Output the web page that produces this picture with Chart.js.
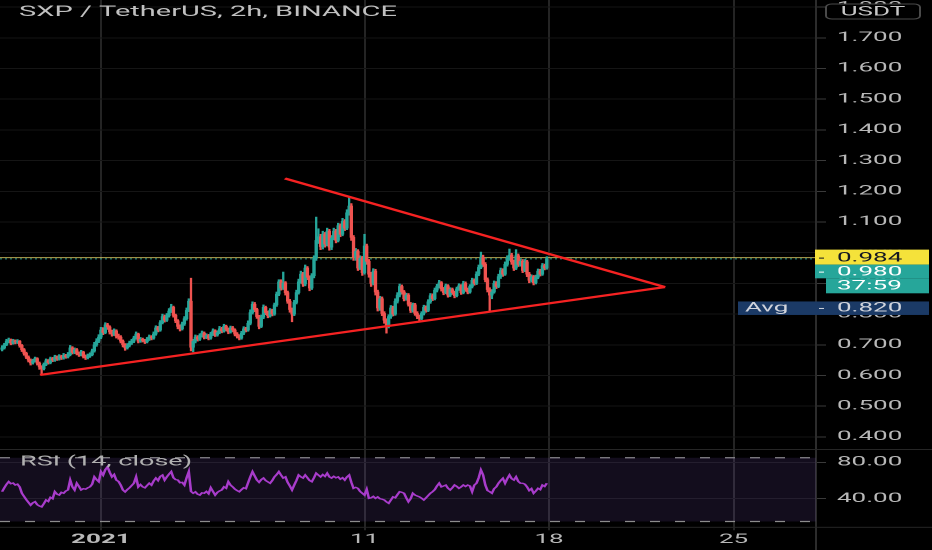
<!DOCTYPE html>
<html>
<head>
<meta charset="utf-8">
<script src="https://cdn.jsdelivr.net/npm/chart.js@4.4.1/dist/chart.umd.min.js"></script>
<style>
  html, body { margin: 0; padding: 0; background: #000; overflow: hidden; }
  /* the reference screenshot is stretched 2x horizontally, so draw at half width and stretch */
  #wrap { position: absolute; left: 0; top: 0; width: 466px; height: 550px; transform: scaleX(2); transform-origin: 0 0; }
  #priceBox { position: absolute; left: 0; top: 0; width: 466px; height: 449px; }
  #rsiBox { position: absolute; left: 0; top: 449px; width: 466px; height: 101px; }
</style>
</head>
<body>
<div id="wrap">
  <div id="priceBox"><canvas id="priceChart" width="466" height="449"></canvas></div>
  <div id="rsiBox"><canvas id="rsiChart" width="466" height="101"></canvas></div>
</div>
<script>
// time is counted in days from 1 Jan 2021, one candle every 2 hours
const startDay = -3.75;
const stepDay = 2 / 24;
const firstOpen = 0.685;

const closes = [
  0.690,0.700,0.712,0.715,0.706,0.713,0.709,0.712,0.698,0.684,
  0.672,0.660,0.650,0.641,0.648,0.655,0.640,0.628,0.622,0.636,
  0.648,0.642,0.655,0.650,0.660,0.654,0.662,0.657,0.665,0.661,
  0.668,0.690,0.675,0.684,0.672,0.668,0.676,0.662,0.658,0.664,
  0.668,0.680,0.700,0.712,0.725,0.748,0.740,0.765,0.758,0.742,
  0.735,0.745,0.728,0.725,0.712,0.700,0.690,0.698,0.706,0.712,
  0.722,0.735,0.712,0.718,0.714,0.710,0.718,0.726,0.722,0.735,
  0.755,0.748,0.772,0.792,0.780,0.795,0.810,0.822,0.796,0.778,
  0.760,0.752,0.768,0.785,0.812,0.842,0.692,0.712,0.725,0.718,
  0.730,0.738,0.724,0.730,0.722,0.735,0.745,0.732,0.740,0.752,
  0.745,0.760,0.750,0.742,0.755,0.748,0.735,0.728,0.722,0.738,
  0.752,0.748,0.770,0.805,0.832,0.815,0.792,0.760,0.790,0.822,
  0.805,0.795,0.812,0.800,0.830,0.865,0.905,0.885,0.902,0.870,
  0.842,0.815,0.800,0.838,0.870,0.905,0.930,0.898,0.950,0.920,
  0.885,0.925,0.982,1.040,1.052,1.020,1.060,1.028,1.070,1.018,
  1.048,1.070,1.040,1.088,1.060,1.102,1.080,1.130,1.152,1.050,
  0.985,1.005,0.950,0.982,0.935,1.022,0.972,0.930,0.900,0.940,
  0.872,0.820,0.850,0.802,0.780,0.762,0.792,0.820,0.800,0.842,
  0.862,0.890,0.872,0.850,0.862,0.832,0.812,0.830,0.802,0.792,
  0.786,0.802,0.822,0.812,0.840,0.860,0.850,0.878,0.890,0.902,
  0.882,0.870,0.892,0.862,0.880,0.870,0.860,0.882,0.892,0.870,
  0.900,0.880,0.872,0.890,0.910,0.900,0.930,0.952,0.985,0.962,
  0.912,0.880,0.862,0.872,0.900,0.890,0.922,0.942,0.930,0.962,
  0.980,0.992,0.970,0.950,0.990,0.962,0.972,0.942,0.970,0.930,
  0.910,0.922,0.902,0.920,0.940,0.930,0.958,0.950,0.980
];

const highs = [
  0.697,0.705,0.718,0.722,0.719,0.718,0.716,0.717,0.714,0.701,
  0.688,0.676,0.664,0.654,0.653,0.660,0.658,0.644,0.632,0.641,
  0.654,0.652,0.660,0.659,0.666,0.664,0.668,0.666,0.672,0.669,
  0.675,0.698,0.694,0.690,0.688,0.677,0.682,0.679,0.667,0.670,
  0.674,0.686,0.708,0.720,0.733,0.757,0.756,0.772,0.770,0.762,
  0.748,0.752,0.749,0.735,0.730,0.716,0.704,0.704,0.712,0.718,
  0.728,0.742,0.738,0.724,0.722,0.718,0.724,0.732,0.730,0.742,
  0.762,0.760,0.779,0.800,0.797,0.802,0.818,0.832,0.826,0.800,
  0.782,0.765,0.774,0.792,0.820,0.850,0.917,0.718,0.732,0.730,
  0.736,0.745,0.742,0.736,0.734,0.741,0.752,0.749,0.746,0.760,
  0.757,0.767,0.764,0.755,0.761,0.760,0.752,0.740,0.733,0.744,
  0.759,0.757,0.778,0.814,0.840,0.838,0.819,0.796,0.797,0.830,
  0.826,0.810,0.818,0.816,0.836,0.872,0.912,0.912,0.937,0.906,
  0.875,0.848,0.820,0.845,0.878,0.914,0.940,0.936,0.960,0.955,
  0.925,0.932,0.990,1.116,1.078,1.060,1.070,1.066,1.080,1.076,
  1.056,1.080,1.076,1.096,1.094,1.112,1.108,1.140,1.180,1.160,
  1.056,1.014,1.010,0.990,0.988,1.060,1.028,0.978,0.936,0.948,
  0.946,0.878,0.858,0.856,0.808,0.785,0.798,0.828,0.826,0.850,
  0.870,0.898,0.895,0.877,0.868,0.867,0.838,0.836,0.835,0.808,
  0.797,0.808,0.829,0.827,0.847,0.867,0.866,0.885,0.897,0.910,
  0.906,0.887,0.898,0.896,0.886,0.885,0.875,0.888,0.899,0.896,
  0.907,0.905,0.885,0.896,0.917,0.915,0.938,0.960,1.002,0.992,
  0.968,0.918,0.886,0.880,0.908,0.906,0.930,0.950,0.948,0.970,
  0.990,1.012,0.998,0.976,1.010,0.996,0.980,0.978,0.978,0.975,
  0.936,0.928,0.926,0.927,0.947,0.946,0.965,0.963,0.987
];

const lows = [
  0.680,0.686,0.697,0.706,0.700,0.702,0.703,0.704,0.692,0.678,
  0.666,0.655,0.644,0.634,0.637,0.644,0.634,0.620,0.603,0.618,
  0.632,0.637,0.638,0.645,0.646,0.649,0.650,0.652,0.653,0.656,
  0.657,0.664,0.670,0.671,0.667,0.662,0.664,0.657,0.652,0.654,
  0.659,0.664,0.676,0.695,0.707,0.720,0.733,0.736,0.750,0.735,
  0.728,0.730,0.722,0.718,0.706,0.693,0.682,0.686,0.693,0.701,
  0.707,0.718,0.706,0.708,0.709,0.704,0.706,0.714,0.716,0.718,
  0.731,0.742,0.744,0.768,0.774,0.776,0.790,0.805,0.790,0.772,
  0.752,0.745,0.748,0.763,0.780,0.808,0.680,0.677,0.706,0.712,
  0.714,0.725,0.719,0.720,0.716,0.718,0.730,0.727,0.728,0.736,
  0.739,0.741,0.745,0.736,0.738,0.742,0.729,0.722,0.716,0.718,
  0.733,0.742,0.744,0.765,0.800,0.808,0.786,0.752,0.756,0.785,
  0.798,0.788,0.790,0.794,0.796,0.825,0.860,0.878,0.880,0.862,
  0.835,0.806,0.775,0.795,0.833,0.865,0.900,0.890,0.892,0.912,
  0.876,0.880,0.918,0.975,1.030,1.010,1.012,1.018,1.022,1.008,
  1.010,1.042,1.032,1.035,1.052,1.055,1.072,1.075,1.122,1.040,
  0.975,0.975,0.942,0.945,0.926,0.930,0.962,0.920,0.890,0.895,
  0.862,0.810,0.812,0.795,0.770,0.738,0.755,0.786,0.794,0.796,
  0.836,0.856,0.865,0.843,0.845,0.826,0.805,0.806,0.796,0.785,
  0.779,0.782,0.797,0.806,0.808,0.835,0.844,0.846,0.872,0.885,
  0.875,0.863,0.866,0.855,0.857,0.864,0.853,0.856,0.877,0.864,
  0.866,0.874,0.866,0.868,0.885,0.894,0.896,0.925,0.948,0.955,
  0.905,0.872,0.810,0.850,0.868,0.883,0.886,0.916,0.923,0.926,
  0.956,0.975,0.962,0.942,0.945,0.955,0.956,0.935,0.938,0.922,
  0.902,0.904,0.895,0.898,0.915,0.924,0.926,0.944,0.946
];

const rsi = [
  47.7,52.0,55.8,58.7,56.5,57.2,55.0,56.0,53.0,46.0,
  42.5,39.0,36.0,33.0,35.5,36.7,33.5,32.0,31.0,34.5,
  38.6,37.0,41.5,40.0,47.7,45.0,44.0,47.0,46.0,48.5,
  49.6,60.5,53.0,49.6,57.0,53.5,49.6,51.0,50.5,52.0,
  53.0,56.0,64.0,61.0,58.7,69.7,66.0,72.0,75.0,69.0,
  64.0,66.5,60.5,59.0,55.0,49.6,47.5,50.0,52.0,54.5,
  57.0,64.0,53.0,55.5,53.0,52.0,54.5,57.0,55.0,59.5,
  62.7,60.0,64.5,66.0,60.5,64.0,67.0,69.7,63.0,61.0,
  60.5,57.5,58.0,55.0,63.0,69.7,48.0,46.0,47.5,45.0,
  44.0,46.5,46.0,48.0,45.5,52.0,48.0,44.0,47.0,48.5,
  49.6,53.0,51.5,58.7,55.0,53.0,50.5,49.0,47.7,50.0,
  52.0,51.0,57.5,64.0,69.7,65.0,60.5,58.0,61.0,62.7,
  60.0,58.5,57.0,60.0,64.0,66.5,69.7,66.0,62.7,64.0,
  58.0,54.0,49.6,55.0,60.0,66.0,64.0,62.7,66.0,63.0,
  60.0,58.7,63.0,68.0,66.0,64.0,66.5,64.5,68.0,64.0,
  62.7,64.5,63.0,64.0,61.5,63.0,60.5,64.0,66.0,58.0,
  51.4,52.5,51.4,48.0,46.0,44.0,50.3,40.4,41.0,42.5,
  40.4,42.0,40.0,39.5,38.6,36.5,35.0,38.5,42.0,41.0,
  44.5,47.7,47.0,46.0,41.0,36.7,40.0,46.0,44.0,43.0,
  42.0,40.5,38.6,41.0,43.5,46.0,47.7,50.0,54.0,57.0,
  53.0,54.0,55.0,51.5,49.6,52.0,55.0,53.5,51.4,53.0,
  55.0,53.5,55.0,54.0,47.7,55.0,57.0,63.0,71.5,66.0,
  55.0,49.0,47.7,46.0,51.0,53.0,57.0,60.0,62.4,57.0,
  62.0,66.0,62.0,60.5,64.0,59.0,57.0,57.0,56.0,53.0,
  49.0,51.0,46.0,48.5,51.4,50.0,55.0,53.5,57.0
];

// axis ticks
const dateTicks = [0, 10, 17, 24];
const dateLabels = ['2021', '11', '18', '25'];
const priceTicks = [0.4, 0.5, 0.6, 0.7, 0.8, 0.9, 1.0, 1.1, 1.2, 1.3, 1.4, 1.5, 1.6, 1.7, 1.8];
const rsiTicks = [40, 80];
const rsiBands = [15, 85];

// drawn triangle (day, price)
const upperTrend = [[6.98, 1.242], [21.40, 0.888]];
const lowerTrend = [[-2.31, 0.602], [21.40, 0.888]];

const highMark = 0.984;
const lastPrice = 0.980;
const avgPrice = 0.820;
const countdown = '37:59';
const titleText = 'SXP / TetherUS, 2h, BINANCE';
const rsiTitle = 'RSI (14, close)';

// visible window
const xMin = -3.83, xMax = 27.13;
const priceMin = 0.3606, priceMax = 1.8231;
const rsiMin = 8.6, rsiMax = 94.6;

const FONT = 'Roboto';
const AXIS_W = 58;
const UP = '#26a69a', DOWN = '#ef5350';
const LABEL = '#b8b8b8';

const candleTime = i => startDay + i * stepDay;
const opens = closes.map((c, i) => i === 0 ? firstOpen : closes[i - 1]);
const candleColors = closes.map((c, i) => c >= opens[i] ? UP : DOWN);
const toPts = arr => arr.map(p => ({ x: p[0], y: p[1] }));
const flat = v => [{ x: xMin, y: v }, { x: xMax, y: v }];

// keep the plot edge to edge, like the platform does
const noPad = s => { s.paddingTop = 0; s.paddingBottom = 0; s.paddingLeft = 0; s.paddingRight = 0; };

function tag(ctx, x0, x1, top, bottom, yc, bg, fg, text, tx) {
  ctx.fillStyle = bg;
  ctx.fillRect(x0, top, x1 - x0, bottom - top);
  ctx.fillStyle = fg;
  ctx.fillText(text, tx, yc + 0.5);
}

const priceOverlay = {
  id: 'priceOverlay',
  afterDraw(chart) {
    const { ctx, chartArea } = chart;
    const y = chart.scales.y;
    const ax = chartArea.right;
    ctx.save();
    ctx.textBaseline = 'middle';
    ctx.textAlign = 'left';

    ctx.font = '14.5px ' + FONT;
    ctx.fillStyle = '#c0c0c0';
    ctx.fillText(titleText, 9.5, 12.5);

    // currency button
    ctx.fillStyle = '#000';
    ctx.strokeStyle = '#4a4a4a';
    ctx.lineWidth = 1;
    ctx.beginPath();
    ctx.roundRect(413, 4, 47, 15, 3);
    ctx.fill();
    ctx.stroke();
    ctx.font = '13px ' + FONT;
    ctx.fillStyle = '#c8c8c8';
    ctx.textAlign = 'center';
    ctx.fillText('USDT', 436.5, 12);
    ctx.textAlign = 'left';

    const tx = ax + 10.5;
    const x1 = ax + 56.5;
    const yh = y.getPixelForValue(highMark);
    // the axis label for 1.000 sits under this tag, so cover it fully
    ctx.fillStyle = '#000';
    ctx.fillRect(ax + 0.5, yh - 14, x1 - ax, 6);
    tag(ctx, ax - 0.5, x1, yh - 8, yh + 7, yh, '#f5e23a', '#131722', highMark.toFixed(3), tx);
    ctx.fillRect(ax + 1.5, yh, 2.5, 1);
    const yl = yh + 14;
    tag(ctx, ax - 0.5, x1, yh + 7, yl + 6.7, yl, UP, '#ffffff', lastPrice.toFixed(3), tx);
    ctx.fillRect(ax + 1.5, yl, 2.5, 1);
    tag(ctx, ax + 5, x1, yl + 6.7, yl + 21.7, yl + 14.2, UP, '#ffffff', countdown, tx);

    const ya = y.getPixelForValue(avgPrice);
    tag(ctx, ax - 39, x1, ya - 6.5, ya + 7, ya, '#1b3a66', '#d1d4dc', avgPrice.toFixed(3), tx);
    ctx.fillText('Avg', ax - 35.5, ya + 0.5);
    ctx.fillRect(ax + 1.5, ya, 2.5, 1);
    ctx.restore();
  }
};

const rsiOverlay = {
  id: 'rsiOverlay',
  afterDraw(chart) {
    const { ctx, chartArea } = chart;
    ctx.save();
    ctx.fillStyle = '#262626';
    ctx.fillRect(0, 0, chart.width, 1);
    ctx.fillRect(0, chartArea.bottom - 0.5, chart.width, 1);
    ctx.fillStyle = '#2c2c2c';
    ctx.fillRect(chartArea.right - 0.5, chartArea.bottom, 1, chart.height - chartArea.bottom);
    ctx.font = '13.5px ' + FONT;
    ctx.fillStyle = '#b0b0b0';
    ctx.textBaseline = 'middle';
    ctx.fillText(rsiTitle, 10, 13);
    ctx.restore();
  }
};

const common = {
  responsive: false,
  animation: false,
  devicePixelRatio: 2,
  layout: { padding: 0, autoPadding: false },
  plugins: { legend: { display: false }, tooltip: { enabled: false } }
};

new Chart(document.getElementById('priceChart'), {
  type: 'bar',
  data: {
    datasets: [
      {
        data: closes.map((c, i) => ({ x: candleTime(i), y: [lows[i], highs[i]] })),
        backgroundColor: candleColors, barThickness: 0.5, grouped: false, order: 3
      },
      {
        data: closes.map((c, i) => ({ x: candleTime(i), y: [opens[i], c] })),
        backgroundColor: candleColors, barThickness: 1.0, minBarLength: 0.6, grouped: false, order: 2
      },
      { type: 'line', data: flat(highMark), borderColor: 'rgba(240, 222, 110, 0.75)', borderWidth: 1, pointRadius: 0, order: 4 },
      { type: 'line', data: flat(lastPrice), borderColor: 'rgba(38, 166, 154, 0.9)', borderWidth: 1, borderDash: [1, 1.5], pointRadius: 0, order: 4 },
      { type: 'line', data: toPts(upperTrend), borderColor: '#f52222', borderWidth: 2.2, pointRadius: 0, order: 0 },
      { type: 'line', data: toPts(lowerTrend), borderColor: '#f52222', borderWidth: 2.2, pointRadius: 0, order: 0 }
    ]
  },
  options: Object.assign({}, common, {
    scales: {
      x: {
        type: 'linear', min: xMin, max: xMax, offset: false,
        grid: { color: '#242424', drawTicks: false, offset: false },
        border: { display: false },
        ticks: { display: false },
        afterBuildTicks: s => { s.ticks = dateTicks.map(v => ({ value: v })); },
        afterFit: s => { s.height = 0; noPad(s); }
      },
      y: {
        position: 'right', min: priceMin, max: priceMax,
        grid: { color: '#151515', tickColor: '#3a3a3a', tickLength: 5 },
        border: { color: '#2c2c2c' },
        ticks: { color: LABEL, font: { family: FONT, size: 13 }, padding: 5.5, callback: v => v.toFixed(3) },
        afterBuildTicks: s => { s.ticks = priceTicks.map(v => ({ value: v })); },
        afterFit: s => { s.width = AXIS_W; noPad(s); }
      }
    }
  }),
  plugins: [priceOverlay]
});

new Chart(document.getElementById('rsiChart'), {
  type: 'line',
  data: {
    datasets: [
      { data: rsi.map((v, i) => ({ x: candleTime(i), y: v })), borderColor: '#a83ccb', borderWidth: 1.3, pointRadius: 0, order: 0 },
      { data: flat(rsiBands[1]), borderColor: '#8c8c8c', borderWidth: 1.2, borderDash: [5, 7.5], pointRadius: 0, order: 2 },
      {
        data: flat(rsiBands[0]), borderColor: '#8c8c8c', borderWidth: 1.2, borderDash: [5, 7.5], pointRadius: 0,
        fill: '-1', backgroundColor: 'rgba(126, 87, 194, 0.15)', order: 1
      }
    ]
  },
  options: Object.assign({}, common, {
    scales: {
      x: {
        type: 'linear', min: xMin, max: xMax, offset: false,
        grid: { color: '#242424', tickColor: '#242424', tickLength: 3 },
        border: { display: false },
        ticks: {
          color: LABEL, padding: 1.5, maxRotation: 0, autoSkip: false,
          font: ctx => ({ family: FONT, size: 13, weight: ctx.tick && ctx.tick.value === 0 ? 'bold' : 'normal' }),
          callback: v => dateLabels[dateTicks.indexOf(v)]
        },
        afterBuildTicks: s => { s.ticks = dateTicks.map(v => ({ value: v })); },
        afterFit: s => { s.height = 22.7; noPad(s); }
      },
      y: {
        position: 'right', min: rsiMin, max: rsiMax,
        grid: { color: '#151515', tickColor: '#3a3a3a', tickLength: 5 },
        border: { color: '#2c2c2c' },
        ticks: { color: LABEL, font: { family: FONT, size: 13 }, padding: 5.5, callback: v => v.toFixed(2) },
        afterBuildTicks: s => { s.ticks = rsiTicks.map(v => ({ value: v })); },
        afterFit: s => { s.width = AXIS_W; noPad(s); }
      }
    }
  }),
  plugins: [rsiOverlay]
});
</script>
</body>
</html>
